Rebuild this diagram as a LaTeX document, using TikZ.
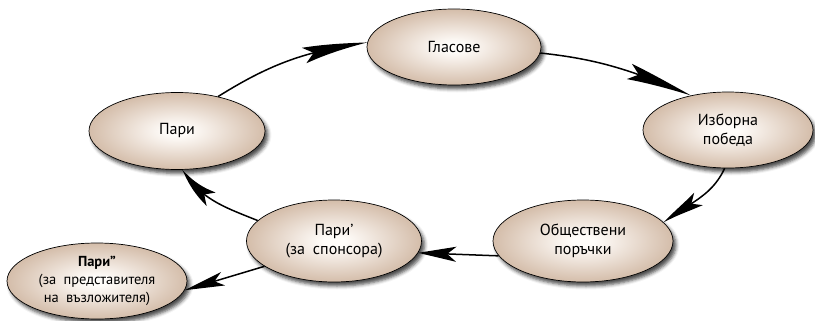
\documentclass[tikz,border=0pt]{standalone}
\usepackage{fontspec}
\setmainfont{PT Sans}
\usetikzlibrary{arrows.meta,bending,shapes.geometric,shadows.blur}
\definecolor{tanedge}{RGB}{186,154,128}
\definecolor{tanmid}{RGB}{210,186,166}
\definecolor{tanin}{RGB}{244,236,229}
\definecolor{tancen}{RGB}{255,253,250}
\pgfdeclareradialshading{tanball}{\pgfpoint{0bp}{0bp}}{color(0bp)=(tancen); color(3bp)=(tancen); color(9bp)=(tanin); color(26bp)=(tanmid); color(50bp)=(tanedge)}
\tikzset{
  ball/.style={ellipse, draw=black, line width=0.7pt, shading=tanball, shade,
    blur shadow={shadow xshift=3pt, shadow yshift=-4pt, shadow blur radius=3.5pt, shadow opacity=70},
    inner sep=0pt, align=center, font=\fontsize{16}{19}\selectfont},
  arr/.style={line width=1.5pt, draw=black},
}
\begin{document}
\begin{tikzpicture}[x=1pt,y=-1pt]
\useasboundingbox (0,0) rectangle (815,321);
\node[ball, minimum width=174pt, minimum height=76pt] (glas) at (454,47) {Гласове};
\node[ball, minimum width=170pt, minimum height=76pt] (izb) at (728,130) {Изборна\\победа};
\node[ball, minimum width=180pt, minimum height=82pt] (obsh) at (583,241) {Обществени\\поръчки};
\node[ball, minimum width=175pt, minimum height=82pt] (paris) at (334,241) {Пари’\\(за\enskip спонсора)};
\node[ball, minimum width=176pt, minimum height=77pt] (pari) at (177,131) {Пари};
\node[ball, minimum width=180pt, minimum height=76pt, font=\fontsize{14.5}{18}\selectfont] (pari2) at (97,281) {\textbf{Пари”}\\(за\enskip представителя\\на\enskip възложителя)};

\draw[arr, -{Stealth[length=72pt,width=16pt,inset=12pt,bend]}] (pari.40) to[out=32,in=188] (glas.177);
\draw[arr, -{Stealth[length=74pt,width=16pt,inset=12pt,bend]}] (glas.-4) to[out=-6,in=157] (izb.137);
\draw[arr, -{Stealth[length=46pt,width=15pt,inset=10pt,bend]}] (izb.-95) to[out=-115,in=38] (obsh.13);
\draw[arr, -{Stealth[length=38pt,width=15pt,inset=9pt]}] (obsh.190) -- (paris.-8);
\draw[arr, -{Stealth[length=46pt,width=16pt,inset=10pt,bend]}] (paris.165) to[out=158,in=-58] (pari.-82);
\draw[arr, -{Stealth[length=40pt,width=14pt,inset=9pt]}] (paris.200) -- (pari2.-6);
\end{tikzpicture}
\end{document}
